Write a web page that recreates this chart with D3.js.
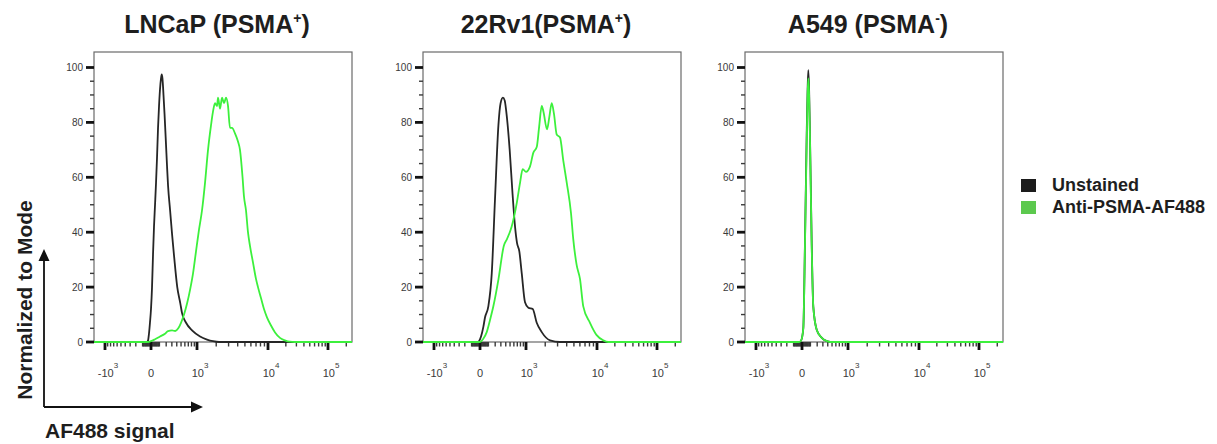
<!DOCTYPE html>
<html>
  <head>
    <meta charset="utf-8">
    <script src="https://d3js.org/d3.v7.min.js"></script>
    <title>PSMA flow histograms</title>
    <style>
      body {
        margin: 0px;
        background: #fff;
      }
      text {
        font-family: 'Liberation Sans', Arial, sans-serif;
      }
      .ylab {
        font-size: 10px;
        fill: #3a3a3a;
      }
      .xlab {
        font-size: 11px;
        fill: #3a3a3a;
      }
      .title {
        font-size: 25px;
        font-weight: bold;
        fill: #1e1e1e;
      }
      .legend text {
        font-size: 18px;
        font-weight: bold;
        fill: #1e1e1e;
      }
      .axis-title {
        font-size: 21px;
        font-weight: bold;
        fill: #1e1e1e;
      }
    </style>
  </head>
  <body>
    <svg width="1217" height="444"></svg>
    <script>
      // panel titles (superscript sign kept apart)
      const panelNames = ['LNCaP (PSMA', '22Rv1(PSMA', 'A549 (PSMA'];
      const panelSigns = ['+', '+', '-'];
      const seriesNames = ['Unstained', 'Anti-PSMA-AF488'];
      const seriesColors = ['#262626', '#3cf03c'];
      const legendColors = ['#1c1c1c', '#5cc94e'];

      const yMajorTicks = [0, 20, 40, 60, 80, 100];
      const yMinorTicks = [5, 10, 15, 25, 30, 35, 45, 50, 55, 65, 70, 75, 85, 90, 95];
      const xMajorTicks = [-1000, 0, 1000, 10000, 100000];
      const xTickBases = ['-10', '0', '10', '10', '10'];
      const xTickPowers = ['3', '', '3', '4', '5'];
      const xMinorTicks = [10, 100, 1000, 10000]
        .flatMap(k => d3.range(1, 10).map(m => m * k))
        .filter(v => !xMajorTicks.includes(v));
      const xAllMinor = xMinorTicks.concat(xMinorTicks.filter(v => v < 1000).map(v => -v), [200000]);

      // [AF488 value, % of mode]
      const lncapUnstained = [
        [-1500, 0], [-45, 0], [-33, 0.5], [-22, 3], [-11, 7], [0, 12], [11, 20], [22, 32], [33, 42],
        [45, 50], [57, 58], [69, 67], [82, 78], [95, 86], [108, 92], [122, 96], [132, 97.5], [143, 96],
        [158, 90], [174, 83], [197, 72], [214, 64], [231, 57], [267, 48], [305, 39], [345, 31],
        [411, 20], [483, 14], [525, 10.5], [633, 7], [820, 4.2], [1125, 2], [1453, 0.9], [1793, 0.3],
        [2197, 0], [250000, 0]
      ];
      const lncapStained = [
        [-1500, 0], [-30, 0], [0, 0.3], [45, 1], [108, 2], [181, 3], [231, 4], [305, 4.2], [366, 4],
        [434, 5], [499, 7], [577, 10], [662, 14], [754, 19], [854, 25], [962, 33], [1082, 41],
        [1211, 48], [1352, 58], [1506, 70], [1674, 79], [1793, 84], [1920, 87], [2055, 86],
        [2125, 89], [2271, 85], [2426, 89], [2590, 87], [2763, 89], [2946, 86], [3140, 78],
        [3346, 78], [3677, 76], [4038, 73], [4296, 70], [4650, 60], [4859, 53], [5166, 48],
        [5490, 40], [5834, 35], [6387, 29], [6992, 23], [7424, 20], [8119, 16], [8877, 12],
        [9702, 9], [11245, 6], [13170, 3.5], [15960, 1.5], [19280, 0.6], [23300, 0.1], [28100, 0],
        [250000, 0]
      ];
      const rv1Unstained = [
        [-1500, 0], [-22, 0], [-11, 0.3], [11, 2], [37, 5.5], [57, 9], [99, 13], [147, 25],
        [197, 52], [255, 79], [295, 87], [340, 89], [377, 88], [411, 84], [491, 70], [564, 54],
        [633, 42], [692, 36], [763, 33], [844, 25], [962, 14.5], [1095, 12.5], [1290, 12],
        [1490, 7], [1775, 3.6], [2347, 0.6], [3242, 0], [250000, 0]
      ];
      const rv1Stained = [
        [-1500, 0], [0, 0], [33, 1], [78, 3.6], [122, 8], [171, 13], [257, 23], [358, 35],
        [427, 37.5], [540, 42], [683, 50.6], [786, 58], [878, 63], [1000, 62], [1167, 64],
        [1320, 69], [1490, 71], [1616, 78], [1775, 86], [1880, 84], [2125, 77.5], [2295, 82],
        [2483, 87], [2675, 83], [2917, 75.6], [3242, 74.5], [3600, 66], [4010, 58], [4570, 47],
        [4900, 37.5], [5440, 28], [6013, 23], [6640, 13], [8119, 7], [9900, 2.5], [12800, 0.6],
        [15500, 0], [250000, 0]
      ];
      const a549Unstained = [
        [-1500, 0], [-30, 0], [-10, 0.5], [14, 5], [33, 37], [53, 76], [64, 92], [73, 99],
        [83, 92], [95, 74], [117, 37], [140, 13], [192, 4.5], [280, 1.5], [381, 0.3], [459, 0],
        [250000, 0]
      ];
      const a549Stained = [
        [-1500, 0], [-30, 0], [-10, 0.5], [14, 5], [33, 36], [53, 73], [64, 90], [73, 96],
        [83, 90], [95, 73], [117, 36], [140, 13], [192, 4.5], [280, 1.5], [381, 0.3], [459, 0],
        [250000, 0]
      ];
      const panelSeries = [
        [lncapUnstained, lncapStained],
        [rv1Unstained, rv1Stained],
        [a549Unstained, a549Stained]
      ];

      const panelLefts = [94, 423, 745];
      const frameW = 258, frameTop = 52, frameBottom = 342, zeroOffset = 57;

      const svg = d3.select('svg');
      const y = d3.scaleLinear().domain([0, 100]).range([frameBottom, 67.5]);

      panelSeries.forEach((series, i) => {
        const left = panelLefts[i];
        const zero = left + zeroOffset;
        // biexponential-like display axis
        const x = d3.scaleSymlog()
          .constant(370)
          .domain(xMajorTicks)
          .range([zero - 46, zero, zero + 46, zero + 117, zero + 177]);

        const g = svg.append('g');

        g.append('clipPath')
          .attr('id', 'clip' + i)
          .append('rect')
          .attr('x', left)
          .attr('y', frameTop)
          .attr('width', frameW)
          .attr('height', frameBottom - frameTop + 1);

        g.append('rect')
          .attr('x', left)
          .attr('y', frameTop)
          .attr('width', frameW)
          .attr('height', frameBottom - frameTop)
          .attr('fill', 'none')
          .attr('stroke', '#6a6a6a')
          .attr('stroke-width', 1.2);

        // y ticks
        g.append('g').selectAll('line')
          .data(yMinorTicks)
          .join('line')
          .attr('x1', left - 4).attr('x2', left)
          .attr('y1', d => y(d)).attr('y2', d => y(d))
          .attr('stroke', '#3a3a3a').attr('stroke-width', 1.4);
        g.append('g').selectAll('line')
          .data(yMajorTicks)
          .join('line')
          .attr('x1', left - 8).attr('x2', left)
          .attr('y1', d => y(d)).attr('y2', d => y(d))
          .attr('stroke', '#111').attr('stroke-width', 2.8);
        g.append('g').selectAll('text')
          .data(yMajorTicks)
          .join('text')
          .attr('class', 'ylab')
          .attr('x', left - 11)
          .attr('y', d => y(d))
          .attr('dy', '0.35em')
          .attr('text-anchor', 'end')
          .text(d => d);

        // x ticks
        g.append('g').selectAll('line')
          .data(xAllMinor)
          .join('line')
          .attr('x1', d => x(d)).attr('x2', d => x(d))
          .attr('y1', frameBottom).attr('y2', frameBottom + 4.5)
          .attr('stroke', '#3a3a3a').attr('stroke-width', 1.4);
        g.append('g').selectAll('line')
          .data(xMajorTicks)
          .join('line')
          .attr('x1', d => x(d)).attr('x2', d => x(d))
          .attr('y1', frameBottom).attr('y2', frameBottom + 8)
          .attr('stroke', '#111').attr('stroke-width', 2.8);

        const lab = g.append('g').selectAll('text').data(xMajorTicks).join('text')
          .attr('class', 'xlab')
          .attr('x', (d, j) => x(d) + (xTickPowers[j] ? 3 : 0))
          .attr('y', 377)
          .attr('text-anchor', 'middle');
        lab.append('tspan').text((d, j) => xTickBases[j]);
        lab.append('tspan')
          .attr('dy', -9)
          .attr('font-size', 8)
          .text((d, j) => xTickPowers[j]);

        const line = d3.line()
          .x(d => x(d[0]))
          .y(d => y(d[1]))
          .curve(d3.curveMonotoneX);

        g.append('g')
          .attr('clip-path', `url(#clip${i})`)
          .selectAll('path')
          .data(series)
          .join('path')
          .attr('d', line)
          .attr('fill', 'none')
          .attr('stroke', (d, j) => seriesColors[j])
          .attr('stroke-width', 1.8)
          .attr('stroke-linejoin', 'round');

        const title = g.append('text')
          .attr('class', 'title')
          .attr('x', left + 123)
          .attr('y', 33)
          .attr('text-anchor', 'middle');
        title.append('tspan').text(panelNames[i]);
        title.append('tspan')
          .attr('dy', -10)
          .attr('font-size', 14)
          .text(panelSigns[i]);
        title.append('tspan')
          .attr('dy', 10)
          .text(')');
      });

      // legend
      const legend = svg.append('g')
        .attr('class', 'legend')
        .attr('transform', 'translate(1021,179)');
      const item = legend.selectAll('g').data(seriesNames).join('g')
        .attr('transform', (d, i) => `translate(0,${i * 22})`);
      item.append('rect')
        .attr('width', 15)
        .attr('height', 13)
        .attr('fill', (d, i) => legendColors[i]);
      item.append('text')
        .attr('x', 31)
        .attr('y', 12)
        .text(d => d);

      // axis titles with arrows
      const arrows = svg.append('g');
      arrows.append('path')
        .attr('d', 'M44,407 V258 M44,407 H193')
        .attr('stroke', '#111')
        .attr('stroke-width', 1.8)
        .attr('fill', 'none');
      arrows.append('path')
        .attr('d', 'M38.5,261 L44,249 L49.5,261 Z M191,401.5 L203,407 L191,412.5 Z')
        .attr('fill', '#111');

      svg.append('text')
        .attr('class', 'axis-title')
        .attr('transform', 'translate(32,300) rotate(-90)')
        .attr('text-anchor', 'middle')
        .text('Normalized to Mode');
      svg.append('text')
        .attr('class', 'axis-title')
        .attr('x', 45)
        .attr('y', 438)
        .text('AF488 signal');
    </script>
  </body>
</html>
